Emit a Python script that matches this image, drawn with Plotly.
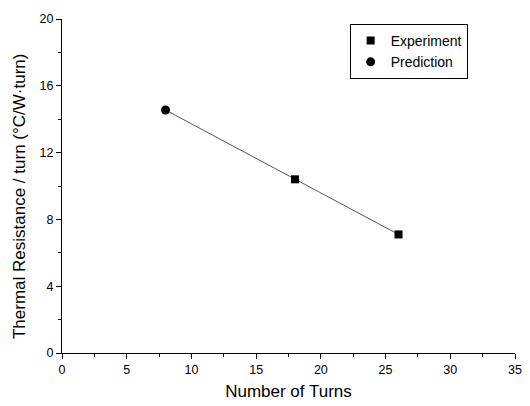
import plotly.graph_objects as go

exp_x = [18, 26]
exp_y = [10.4, 7.1]
pred_x = [8]
pred_y = [14.55]
line_x = [8, 18, 26]
line_y = [14.55, 10.4, 7.1]

fig = go.Figure()
fig.add_trace(go.Scatter(x=line_x, y=line_y, mode="lines", line=dict(color="#555555", width=1),
                         showlegend=False, hoverinfo="skip"))
fig.add_trace(go.Scatter(x=exp_x, y=exp_y, mode="markers", name="Experiment",
                         marker=dict(symbol="square", size=8, color="black")))
fig.add_trace(go.Scatter(x=pred_x, y=pred_y, mode="markers", name="Prediction",
                         marker=dict(symbol="circle", size=9, color="black")))

font = "Liberation Sans, Arial, sans-serif"
axis_common = dict(showgrid=False, zeroline=False, showline=True, linecolor="black", linewidth=1,
                   ticks="outside", ticklen=5, tickcolor="black", tickfont=dict(size=12.5, color="black", family=font),
                   mirror=False)
fig.update_layout(
    width=530, height=406,
    margin=dict(l=62, r=8, t=19, b=49),
    paper_bgcolor="white", plot_bgcolor="white",
    font=dict(family=font, color="black"),
    xaxis=dict(range=[0, 35], tickvals=[0, 5, 10, 15, 20, 25, 30, 35],
               minor=dict(tickvals=[2.5, 7.5, 12.5, 17.5, 22.5, 27.5, 32.5], ticks="outside", ticklen=3, tickcolor="black"),
               title=dict(text="Number of Turns", font=dict(size=17, family=font), standoff=9),
               **axis_common),
    yaxis=dict(range=[0, 20], tickvals=[0, 4, 8, 12, 16, 20],
               minor=dict(tickvals=[2, 6, 10, 14, 18], ticks="outside", ticklen=3, tickcolor="black"),
               **axis_common),
    legend=dict(x=0.635, y=0.985, xanchor="left", yanchor="top", bordercolor="black", borderwidth=1,
                bgcolor="white", font=dict(size=14, family=font), tracegroupgap=0, itemwidth=30),
    annotations=[dict(text="Thermal Resistance / turn (\u00b0C/W\u00b7turn)", textangle=-90,
                      xref="paper", yref="paper", x=0, y=0.467, xanchor="center", yanchor="middle",
                      xshift=-43, showarrow=False, font=dict(size=17, family=font, color="black"))],
)
fig.write_html("out.html")
